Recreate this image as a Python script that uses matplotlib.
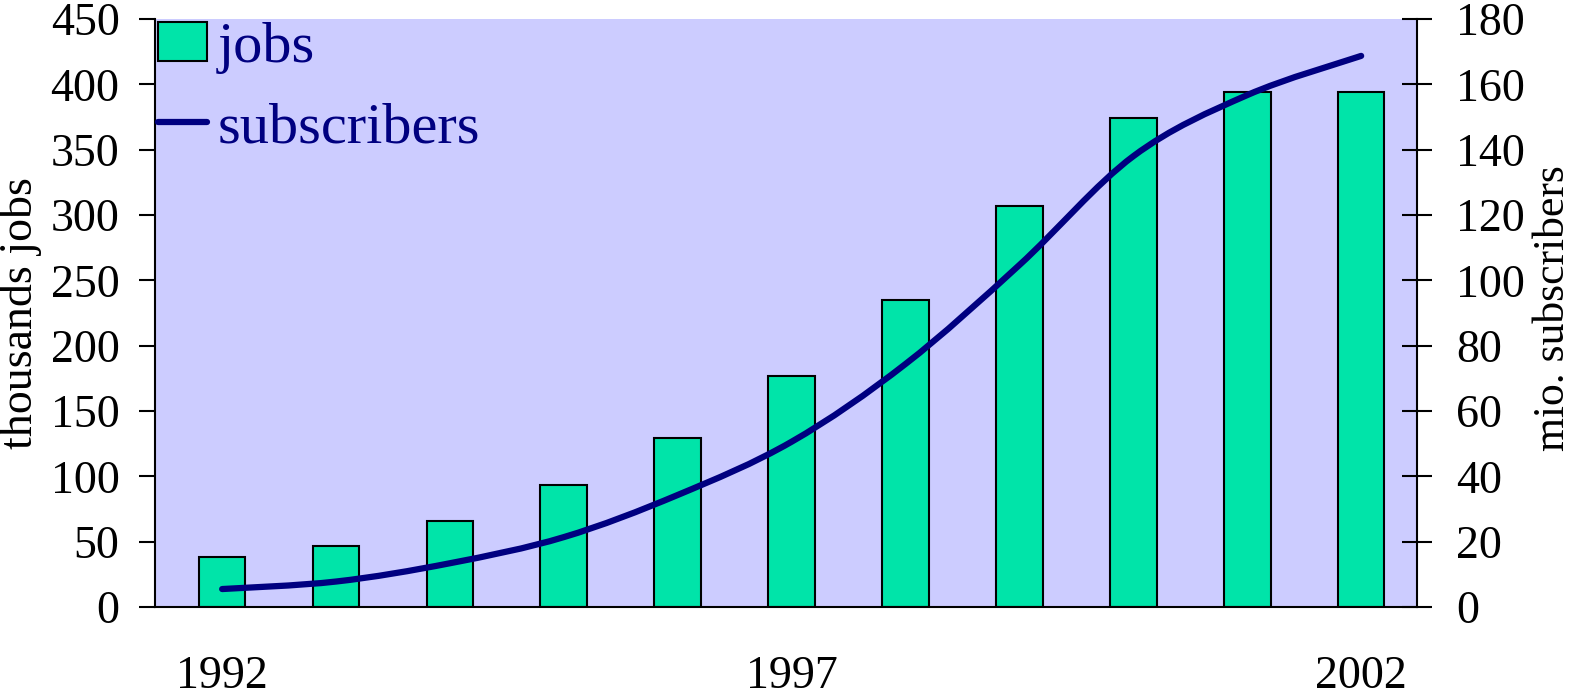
import numpy as np
import matplotlib
matplotlib.use("Agg")
import matplotlib.pyplot as plt
from matplotlib.path import Path
from matplotlib.patches import PathPatch, Patch
from matplotlib.lines import Line2D

years = [1992, 1993, 1994, 1995, 1996, 1997, 1998, 1999, 2000, 2001, 2002]
jobs = [38, 47, 66, 93, 129, 177, 235, 307, 374, 394, 394]          # thousands
subscribers = [5.5, 7.8, 13.4, 21.4, 34.3, 50.6, 74.4, 104.7, 138, 156.7, 168.7]  # millions
year_labels = ["1992", "1997", "2002"]

BAR = "#00E4A9"
BG = "#CCCCFF"
NAVY = "#000080"
FS = 33

plt.rcParams["font.family"] = ["Liberation Serif", "DejaVu Serif"]


def smooth_path(x, y):
    # Catmull-Rom style bezier through the data points (spreadsheet "smoothed line")
    x = np.asarray(x, float); y = np.asarray(y, float)
    verts = [(x[0], y[0])]
    codes = [Path.MOVETO]
    n = len(x)
    for i in range(n - 1):
        x0, y0 = (x[i - 1], y[i - 1]) if i > 0 else (x[i], y[i])
        x3, y3 = (x[i + 2], y[i + 2]) if i + 2 < n else (x[i + 1], y[i + 1])
        c1 = (x[i] + (x[i + 1] - x0) / 6, y[i] + (y[i + 1] - y0) / 6)
        c2 = (x[i + 1] - (x3 - x[i]) / 6, y[i + 1] - (y3 - y[i]) / 6)
        verts += [c1, c2, (x[i + 1], y[i + 1])]
        codes += [Path.CURVE4] * 3
    return Path(verts, codes)


fig = plt.figure(figsize=(15.73, 6.95), dpi=100)
ax = fig.add_axes([0.0985, 0.1266, 0.8023, 0.8461])
ax.set_facecolor(BG)
idx = np.arange(len(years))
ax.bar(idx, jobs, width=0.41, color=BAR, edgecolor="black", linewidth=1.5, zorder=2)
ax.set_xlim(-0.59, 10.49)
ax.set_ylim(0, 450)
ax.set_yticks(np.arange(0, 451, 50))
ax.set_xticks([0, 5, 10])
ax.set_xticklabels(year_labels)
ax.tick_params(axis="x", length=0, pad=35, labelsize=FS)
ax.tick_params(axis="y", direction="out", length=11.5, width=1.5, pad=14, labelsize=FS)
ax.set_ylabel("thousands jobs", fontsize=FS, labelpad=6)
for s in ("top", "right"):
    ax.spines[s].set_visible(False)
ax.spines["left"].set_linewidth(1.5)
ax.spines["bottom"].set_linewidth(1.5)

ax2 = ax.twinx()
ax2.set_ylim(0, 180)
ax2.set_yticks(np.arange(0, 181, 20))
ax2.tick_params(axis="y", direction="inout", length=22, width=1.5, pad=17, labelsize=FS)
ax2.set_ylabel("mio. subscribers", fontsize=31.5, labelpad=6)
ax2.yaxis.label.set_y(0.508)
ax2.spines["top"].set_visible(False)
ax2.spines["left"].set_visible(False)
ax2.spines["bottom"].set_visible(False)
ax2.spines["right"].set_linewidth(1.5)
ax2.add_patch(PathPatch(smooth_path(idx, subscribers), fill=False, edgecolor=NAVY,
                        linewidth=4.5, capstyle="round", zorder=3))

handles = [Patch(facecolor=BAR, edgecolor="black", linewidth=1.5),
           Line2D([], [], color=NAVY, linewidth=4.5, solid_capstyle="round")]
leg = ax2.legend(handles, ["jobs", "subscribers"], loc="upper left", frameon=False,
                 fontsize=42, borderaxespad=0.05, borderpad=0.0, handlelength=0.85,
                 handleheight=0.65, handletextpad=0.17, labelspacing=0.49,
                 labelcolor=NAVY)

fig.savefig("out.png", dpi=100)
